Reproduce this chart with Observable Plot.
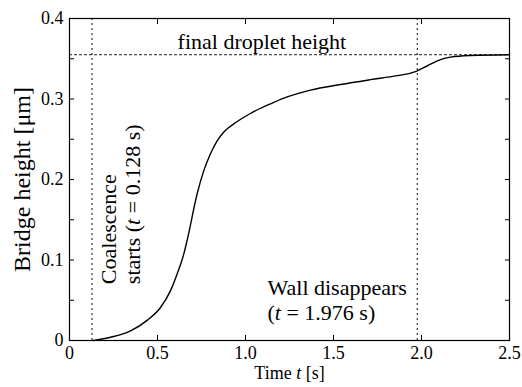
<!DOCTYPE html>
<html><head><meta charset="utf-8">
<script src="https://cdn.jsdelivr.net/npm/d3@7"></script>
<script src="https://cdn.jsdelivr.net/npm/@observablehq/plot@0.6"></script>
<style>body{margin:0;background:#fff}</style>
</head><body><div id="chart"></div>
<script>
// Bridge height over time
const timeS = [0.138, 0.233, 0.347, 0.441, 0.517, 0.574, 0.612, 0.650, 0.668, 0.725, 0.763, 0.801, 0.839, 0.877, 0.953, 1.028, 1.142, 1.218, 1.369, 1.540, 1.710, 1.862, 1.966, 2.032, 2.108, 2.165, 2.278, 2.500];
const heightUm = [0.000, 0.004, 0.012, 0.025, 0.041, 0.062, 0.083, 0.108, 0.124, 0.182, 0.211, 0.232, 0.248, 0.259, 0.272, 0.282, 0.294, 0.301, 0.311, 0.318, 0.324, 0.329, 0.334, 0.341, 0.349, 0.352, 0.354, 0.355];

const xTicks = [0, 0.5, 1, 1.5, 2, 2.5];
const xTickLabels = ["0", "0.5", "1.0", "1.5", "2.0", "2.5"];
const yTicks = [0, 0.1, 0.2, 0.3, 0.4];
const yTickLabels = ["0", "0.1", "0.2", "0.3", "0.4"];
const yMinorTicks = [0, 0.05, 0.1, 0.15, 0.2, 0.25, 0.3, 0.35, 0.4];

const markerTimes = [0.128, 1.976];
const finalHeight = [0.355];

const annoText = ["final droplet height", "Coalescence\nstarts (t = 0.128 s)", "Wall disappears\n(t = 1.976 s)"];
const annoX = [0.614, 0.128, 1.125];
const annoY = [0.382, 0.070, 0.079];

const xLabel = "Time t [s]";
const yLabel = "Bridge height [μm]";

const data = timeS.map((t, i) => ({t, h: heightUm[i]}));
const annos = annoText.map((s, i) => ({s, x: annoX[i], y: annoY[i]}));

const chart = Plot.plot({
  width: 522, height: 387,
  marginLeft: 69, marginRight: 13, marginTop: 18, marginBottom: 47,
  x: {domain: [0, 2.5]},
  y: {domain: [0, 0.4]},
  style: {fontFamily: "'Liberation Serif', 'DejaVu Serif', serif", fontSize: "18px", color: "black", background: "white", overflow: "visible"},
  marks: [
    Plot.axisX({anchor: "bottom", ticks: xTicks, tickSize: 0, tickPadding: 6, tickFormat: d => xTickLabels[xTicks.indexOf(d)], label: null, fontSize: 18}),
    Plot.axisX({anchor: "bottom", ticks: xTicks, tickSize: -5, tickFormat: () => "", label: null}),
    Plot.axisX({anchor: "top", ticks: xTicks, tickSize: -5, tickFormat: () => "", label: null}),
    Plot.axisY({anchor: "left", ticks: yTicks, tickSize: 0, tickPadding: 6, tickFormat: d => yTickLabels[yTicks.indexOf(d)], label: null, fontSize: 18}),
    Plot.axisY({anchor: "left", ticks: yMinorTicks, tickSize: -5, tickFormat: () => "", label: null}),
    Plot.axisY({anchor: "right", ticks: yMinorTicks, tickSize: -5, tickFormat: () => "", label: null}),
    Plot.ruleX(markerTimes, {stroke: "#222", strokeWidth: 1.1, strokeDasharray: "2,3"}),
    Plot.ruleY(finalHeight, {stroke: "#222", strokeWidth: 1, strokeDasharray: "3,2"}),
    Plot.line(data, {x: "t", y: "h", stroke: "black", strokeWidth: 1.4, curve: "monotone-x"}),
    Plot.text([annos[0]], {x: "x", y: "y", text: "s", textAnchor: "start", lineAnchor: "top", fontSize: 22}),
    Plot.text([annos[1]], {x: "x", y: "y", text: "s", textAnchor: "start", lineAnchor: "top", rotate: -90, dx: 8, lineHeight: 1.05, fontSize: 22}),
    Plot.text([annos[2]], {x: "x", y: "y", text: "s", textAnchor: "start", lineAnchor: "top", lineHeight: 1.14, fontSize: 22}),
    Plot.text([yLabel], {frameAnchor: "left", textAnchor: "middle", rotate: -90, dx: -47, lineAnchor: "middle", fontSize: 24}),
    Plot.text([xLabel], {frameAnchor: "bottom", textAnchor: "middle", dy: 33, lineAnchor: "middle", fontSize: 18}),
    Plot.frame({stroke: "black", strokeWidth: 1.2})
  ]
});

// italicize the variable t
chart.querySelectorAll("text, tspan").forEach(el => {
  if (el.children.length) return;
  const s = el.textContent;
  const m = s.match(/(^|[\s(])t(?=\s)/);
  if (!m) return;
  const i = m.index + m[1].length;
  el.textContent = "";
  el.append(document.createTextNode(s.slice(0, i)));
  const ts = document.createElementNS("http://www.w3.org/2000/svg", "tspan");
  ts.setAttribute("font-style", "italic");
  ts.textContent = "t";
  el.append(ts);
  el.append(document.createTextNode(s.slice(i + 1)));
});

document.getElementById("chart").append(chart);
</script>
</body></html>
